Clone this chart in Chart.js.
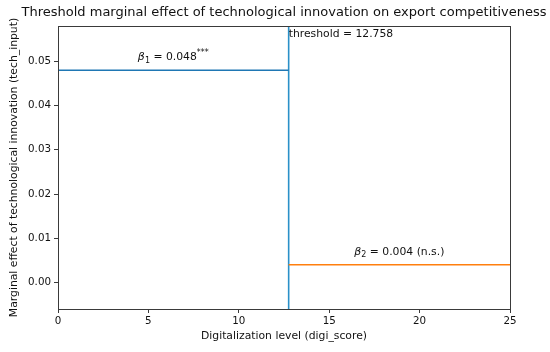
<!DOCTYPE html>
<html>
<head>
<meta charset="utf-8">
<script src="https://cdn.jsdelivr.net/npm/chart.js@4/dist/chart.umd.min.js"></script>
<style>
html,body{margin:0;padding:0;background:#fff;}
#wrap{width:550px;height:352px;position:relative;}
</style>
</head>
<body>
<div id="wrap"><canvas id="c" width="550" height="352"></canvas></div>
<script>
// ---- data ----
const titleText = 'Threshold marginal effect of technological innovation on export competitiveness';
const xLabel = 'Digitalization level (digi_score)';
const yLabel = 'Marginal effect of technological innovation (tech_input)';
const xRange = [0, 25];
const yRange = [-0.006, 0.058];
const threshold = 12.758;
const betas = [0.048, 0.004];
const betaText = ['0.048', '0.004'];
const betaSig = ['***', ' (n.s.)'];
const betaIdx = ['1', '2'];
const xTicks = [0, 5, 10, 15, 20, 25];
const yTicks = [0.00, 0.01, 0.02, 0.03, 0.04, 0.05];
const thresholdLabel = 'threshold = 12.758';

const FONT = "'DejaVu Sans', sans-serif";
const TXT = '#111';
const C0 = '#1f77b4', C1 = '#ff7f0e', CV = '#2a90c8';

const seg1 = [{x: xRange[0], y: betas[0]}, {x: threshold, y: betas[0]}];
const seg2 = [{x: threshold, y: betas[1]}, {x: xRange[1], y: betas[1]}];
const vline = [{x: threshold, y: yRange[0]}, {x: threshold, y: yRange[1]}];

const framePlugin = {
  id: 'frame',
  afterDatasetsDraw(chart) {
    const {ctx, chartArea: a, scales: {x, y}} = chart;
    ctx.save();
    ctx.strokeStyle = '#3a3a3a';
    ctx.lineWidth = 1;
    ctx.strokeRect(a.left + 0.5, a.top + 0.5, a.right - a.left, a.bottom - a.top);
    ctx.fillStyle = TXT;
    const segs = [[xRange[0], threshold], [threshold, xRange[1]]];
    for (let i = 0; i < betas.length; i++) {
      const cx = x.getPixelForValue((segs[i][0] + segs[i][1]) / 2);
      const by = y.getPixelForValue(betas[i] + 0.002) - 1;
      const fb = 'italic 11px ' + FONT, fs = '8px ' + FONT, fn = '10.8px ' + FONT;
      const parts = i === 0
        ? [['β', fb, 0], [betaIdx[i], fs, 2.5], [' = ' + betaText[i], fn, 0], [betaSig[i], fs, -5]]
        : [['β', fb, 0], [betaIdx[i], fs, 2.5], [' = ' + betaText[i] + betaSig[i], fn, 0]];
      let w = 0;
      parts.forEach(p => { ctx.font = p[1]; w += ctx.measureText(p[0]).width; });
      let px = cx - w / 2;
      ctx.textBaseline = 'alphabetic';
      ctx.textAlign = 'left';
      parts.forEach(p => { ctx.font = p[1]; ctx.fillText(p[0], px, by + p[2]); px += ctx.measureText(p[0]).width; });
    }
    ctx.font = '10.8px ' + FONT;
    ctx.textBaseline = 'top';
    ctx.fillText(thresholdLabel, x.getPixelForValue(threshold), a.top + 3);
    ctx.font = '13px ' + FONT;
    ctx.textAlign = 'center';
    ctx.textBaseline = 'middle';
    ctx.fillText(titleText, (a.left + a.right) / 2, 13);
    ctx.restore();
  }
};

new Chart(document.getElementById('c'), {
  type: 'scatter',
  data: {
    datasets: [
      {data: seg1, showLine: true, borderColor: C0, borderWidth: 1.6, pointRadius: 0},
      {data: seg2, showLine: true, borderColor: C1, borderWidth: 1.6, pointRadius: 0},
      {data: vline, showLine: true, borderColor: CV, borderWidth: 1.6, pointRadius: 0}
    ]
  },
  options: {
    responsive: false,
    animation: false,
    events: [],
    layout: {padding: {left: 0, right: 40, top: 26, bottom: 0}},
    plugins: {legend: {display: false}, tooltip: {enabled: false}},
    scales: {
      x: {
        type: 'linear', min: xRange[0], max: xRange[1],
        afterBuildTicks: s => { s.ticks = xTicks.map(v => ({value: v})); },
        afterFit: s => { s.height = 43; },
        grid: {display: true, drawOnChartArea: false, drawTicks: true, tickLength: 4, color: '#3a3a3a'},
        border: {display: true, color: '#3a3a3a'},
        ticks: {color: TXT, font: {family: FONT, size: 10.3}, padding: 2, maxRotation: 0, callback: v => String(v)},
        title: {display: true, text: xLabel, color: TXT, font: {family: FONT, size: 10.8}, padding: {top: 0, bottom: 9}}
      },
      y: {
        type: 'linear', min: yRange[0], max: yRange[1],
        afterBuildTicks: s => { s.ticks = yTicks.map(v => ({value: v})); },
        afterFit: s => { s.width = 58; },
        grid: {display: true, drawOnChartArea: false, drawTicks: true, tickLength: 4, color: '#3a3a3a'},
        border: {display: true, color: '#3a3a3a'},
        ticks: {color: TXT, font: {family: FONT, size: 10.3}, padding: 3, callback: v => v.toFixed(2)},
        title: {display: true, text: yLabel, color: TXT, font: {family: FONT, size: 10.8}, padding: {top: 8, bottom: 0}}
      }
    }
  },
  plugins: [framePlugin]
});
</script>
</body>
</html>
